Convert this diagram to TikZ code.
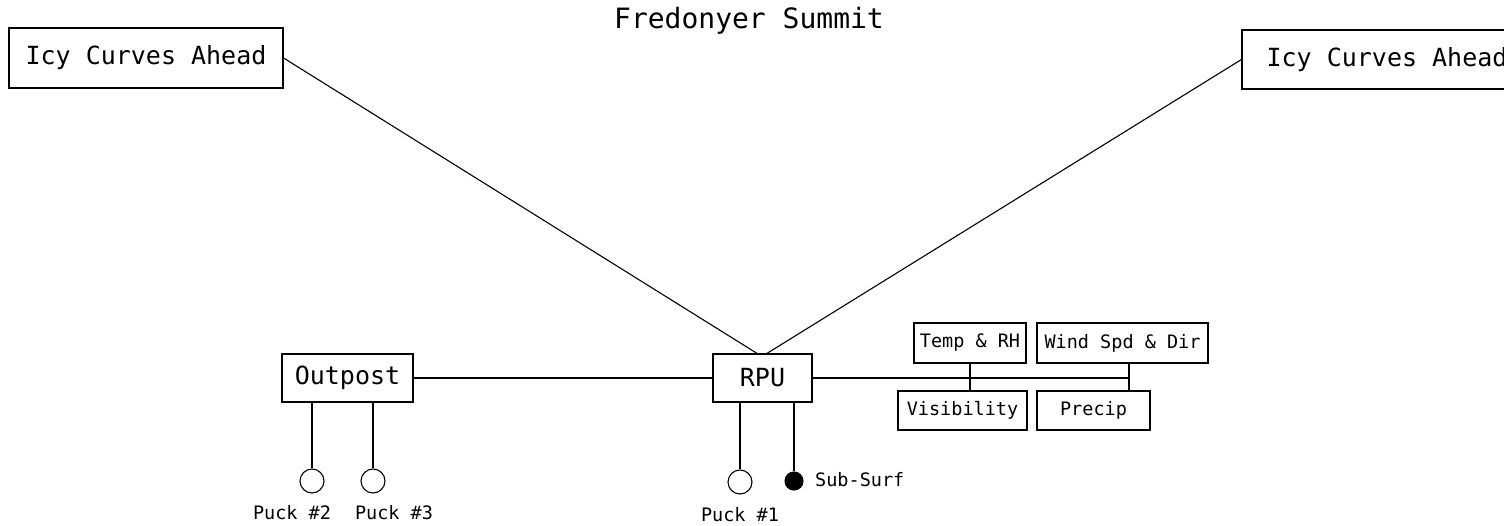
\documentclass[tikz,border=0pt]{standalone}
\usepackage{fontspec}
\newfontfamily\cad{DejaVu Sans Mono}
\tikzset{
  box/.style={draw, rectangle, inner sep=0pt, line width=1.1pt},
  big/.style={font=\cad\fontsize{25}{28}\selectfont},
  small/.style={font=\cad\fontsize{18.5}{21}\selectfont},
  puck/.style={draw, circle, inner sep=0pt, minimum size=24pt, line width=1.1pt},
  subpuck/.style={draw, fill=black, circle, inner sep=0pt, minimum size=18pt, line width=1.1pt},
  wire/.style={line width=1.1pt},
  lbl/.style={inner sep=0pt}
}
\begin{document}
\begin{tikzpicture}[x=1pt,y=-1pt]
\useasboundingbox (0,0) rectangle (1504,526);
\clip (0,0) rectangle (1504,526);
\fill[white] (0,0) rectangle (1504,526);

\node[lbl, font=\cad\fontsize{28}{31}\selectfont] (title) at (749,21) {Fredonyer Summit};

\node[box, big, minimum width=274pt, minimum height=60pt] (icyL) at (146,58) {Icy Curves Ahead};
\node[box, big, minimum width=290pt, minimum height=59pt] (icyR) at (1387,59.5) {Icy Curves Ahead};

\node[box, big, minimum width=131pt, minimum height=48pt] (outpost) at (347.5,378) {Outpost};
\node[box, big, minimum width=99pt, minimum height=48pt] (rpu) at (762.5,378) {RPU};

\node[box, small, minimum width=112pt, minimum height=40pt] (temp) at (970,343) {Temp \& RH};
\node[box, small, minimum width=171pt, minimum height=40pt] (wind) at (1122.5,343) {Wind Spd \& Dir};
\node[box, small, minimum width=129pt, minimum height=39pt] (vis) at (962.5,410.5) {Visibility};
\node[box, small, minimum width=113pt, minimum height=39pt] (precip) at (1093.5,410.5) {Precip};

\node[puck] (p2) at (312,481) {};
\node[puck] (p3) at (373,481) {};
\node[puck] (p1) at (740,482) {};
\node[subpuck] (ss) at (794,481) {};

\node[lbl, small] (l2) at (292,513) {Puck \#2};
\node[lbl, small] (l3) at (394,513) {Puck \#3};
\node[lbl, small] (l1) at (740,515) {Puck \#1};
\node[lbl, small, anchor=west] (lss) at (815,480) {Sub-Surf};

\coordinate (rl) at (758,354);
\coordinate (rr) at (766,354);
\coordinate (bus) at (1129,378);

\draw[wire] (icyL.east) -- (rl);
\draw[wire] (icyR.west) -- (rr);
\draw[wire] (outpost.east) -- (rpu.west);
\draw[wire] (rpu.east) -- (bus);
\draw[wire] (temp.south) -- (temp.south |- vis.north);
\draw[wire] (wind.south -| bus) -- (precip.north -| bus);
\draw[wire] (outpost.south -| p2.north) -- (p2.north);
\draw[wire] (outpost.south -| p3.north) -- (p3.north);
\draw[wire] (rpu.south -| p1.north) -- (p1.north);
\draw[wire] (rpu.south -| ss.north) -- (ss.north);
\end{tikzpicture}
\end{document}
